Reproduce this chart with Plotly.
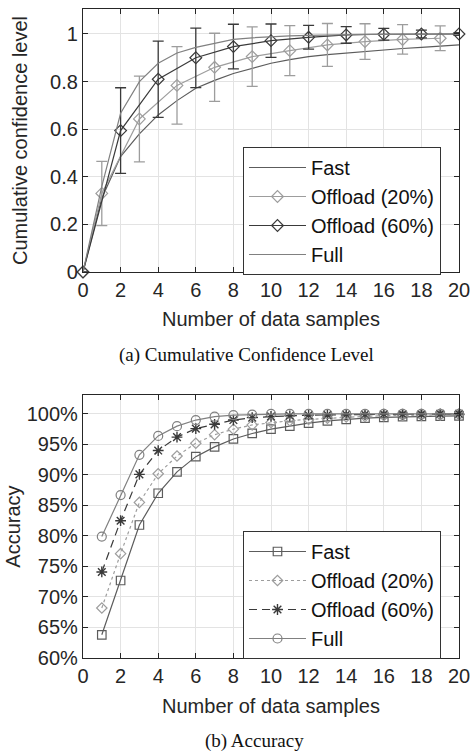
import plotly.graph_objects as go

# ---- (a) Cumulative confidence level ----
conf_x = list(range(0, 21))
conf_fast = [0, 0.31, 0.485, 0.58, 0.66, 0.72, 0.772, 0.805, 0.834, 0.857, 0.877,
             0.892, 0.905, 0.913, 0.92, 0.927, 0.933, 0.939, 0.944, 0.949, 0.954]
conf_full = [0, 0.36, 0.667, 0.80, 0.877, 0.92, 0.944, 0.962, 0.977, 0.984, 0.989,
             0.992, 0.994, 0.996, 0.997, 0.998, 0.998, 0.999, 0.999, 1.0, 1.0]

off20_x = [0, 1, 3, 5, 7, 9, 11, 13, 15, 17, 19]
off20_y = [0, 0.33, 0.643, 0.784, 0.86, 0.905, 0.93, 0.954, 0.968, 0.977, 0.982]
off20_err = [0, 0.135, 0.18, 0.163, 0.143, 0.125, 0.105, 0.09, 0.075, 0.062, 0.052]

off60_x = [0, 2, 4, 6, 8, 10, 12, 14, 16, 18, 20]
off60_y = [0, 0.594, 0.81, 0.90, 0.947, 0.972, 0.986, 0.996, 0.999, 1.0, 1.0]
off60_err = [0, 0.18, 0.16, 0.125, 0.094, 0.07, 0.05, 0.035, 0.025, 0.016, 0.006]

# ---- (b) Accuracy (%) ----
acc_x = list(range(1, 21))
acc_fast = [63.8, 72.7, 81.8, 87.0, 90.5, 93.0, 94.6, 95.9, 96.8, 97.5,
            98.0, 98.5, 98.85, 99.1, 99.3, 99.45, 99.55, 99.6, 99.65, 99.7]
acc_off20 = [68.2, 77.1, 85.5, 90.2, 93.1, 95.2, 96.6, 97.5, 98.2, 98.6,
             98.9, 99.1, 99.3, 99.5, 99.6, 99.7, 99.75, 99.8, 99.85, 99.9]
acc_off60 = [74.1, 82.5, 90.1, 94.0, 96.2, 97.6, 98.3, 99.0, 99.4, 99.6,
             99.7, 99.8, 99.85, 99.9, 99.9, 99.95, 99.95, 99.95, 100.0, 100.0]
acc_full = [79.9, 86.7, 93.3, 96.4, 98.0, 99.0, 99.55, 99.8, 99.9, 100.0,
            100.0, 100.0, 100.0, 100.0, 100.0, 100.0, 100.0, 100.0, 100.0, 100.0]

series_names = ["Fast", "Offload (20%)", "Offload (60%)", "Full"]
x_ticks = list(range(0, 21, 2))
conf_ticks = [0, 0.2, 0.4, 0.6, 0.8, 1]
conf_tick_text = ["0", "0.2", "0.4", "0.6", "0.8", "1"]
acc_ticks = [60, 65, 70, 75, 80, 85, 90, 95, 100]
acc_tick_text = [f"{v}%" for v in acc_ticks]

C_FAST = "#5c5c5c"
C_OFF20 = "#9d9d9d"
C_OFF60 = "#3a3a3a"
C_FULL = "#808080"

FONT = "Liberation Sans, Arial, sans-serif"
SERIF = "Liberation Serif, Times New Roman, serif"
TXT = "#262626"

fig = go.Figure()

# top panel
fig.add_trace(go.Scatter(x=conf_x, y=conf_fast, mode="lines", name=series_names[0],
                         line=dict(color=C_FAST, width=1.2), xaxis="x", yaxis="y",
                         legend="legend"))
fig.add_trace(go.Scatter(x=off20_x, y=off20_y, mode="lines+markers", name=series_names[1],
                         line=dict(color=C_OFF20, width=1.2),
                         marker=dict(symbol="diamond-open", size=9, color=C_OFF20,
                                     line=dict(width=1.2, color=C_OFF20)),
                         error_y=dict(type="data", array=off20_err, color=C_OFF20,
                                      thickness=1.3, width=5.5),
                         cliponaxis=False, xaxis="x", yaxis="y", legend="legend"))
fig.add_trace(go.Scatter(x=off60_x, y=off60_y, mode="lines+markers", name=series_names[2],
                         line=dict(color=C_OFF60, width=1.2),
                         marker=dict(symbol="diamond-open", size=9, color=C_OFF60,
                                     line=dict(width=1.2, color=C_OFF60)),
                         error_y=dict(type="data", array=off60_err, color=C_OFF60,
                                      thickness=1.3, width=5.5),
                         cliponaxis=False, xaxis="x", yaxis="y", legend="legend"))
fig.add_trace(go.Scatter(x=conf_x, y=conf_full, mode="lines", name=series_names[3],
                         line=dict(color=C_FULL, width=1.2), xaxis="x", yaxis="y",
                         legend="legend"))

# bottom panel
fig.add_trace(go.Scatter(x=acc_x, y=acc_fast, mode="lines+markers", name=series_names[0],
                         line=dict(color=C_FAST, width=1.2),
                         marker=dict(symbol="square-open", size=8.5, color=C_FAST,
                                     line=dict(width=1.2, color=C_FAST)),
                         cliponaxis=False, xaxis="x2", yaxis="y2", legend="legend2"))
fig.add_trace(go.Scatter(x=acc_x, y=acc_off20, mode="lines+markers", name=series_names[1],
                         line=dict(color=C_OFF20, width=1.2, dash="dot"),
                         marker=dict(symbol="diamond-open", size=8, color=C_OFF20,
                                     line=dict(width=1.2, color=C_OFF20)),
                         cliponaxis=False, xaxis="x2", yaxis="y2", legend="legend2"))
fig.add_trace(go.Scatter(x=acc_x, y=acc_off60, mode="lines+markers", name=series_names[2],
                         line=dict(color=C_OFF60, width=1.2, dash="8px,5px"),
                         marker=dict(symbol="asterisk-open", size=9, color=C_OFF60,
                                     line=dict(width=1.4, color=C_OFF60)),
                         cliponaxis=False, xaxis="x2", yaxis="y2", legend="legend2"))
fig.add_trace(go.Scatter(x=acc_x, y=acc_full, mode="lines+markers", name=series_names[3],
                         line=dict(color=C_FULL, width=1.2),
                         marker=dict(symbol="circle-open", size=9, color=C_FULL,
                                     line=dict(width=1.2, color=C_FULL)),
                         cliponaxis=False, xaxis="x2", yaxis="y2", legend="legend2"))

axis_common = dict(
    showgrid=True, gridcolor="#e3e3e3", gridwidth=1,
    showline=True, linecolor=TXT, linewidth=1.2, mirror="ticks",
    ticks="inside", ticklen=5, tickcolor=TXT, tickwidth=1,
    tickfont=dict(family=FONT, size=20, color=TXT),
    zeroline=False, automargin=False,
)

legend_common = dict(
    bgcolor="white", bordercolor="#333333", borderwidth=1,
    font=dict(family=FONT, size=20, color="#111111"),
    xanchor="left", yanchor="top", itemwidth=57, tracegroupgap=0,
)

fig.update_layout(
    width=474, height=752,
    margin=dict(l=83, r=15, t=9, b=94),
    plot_bgcolor="white", paper_bgcolor="white",
    font=dict(family=FONT, size=20, color=TXT),
    xaxis=dict(domain=[0, 1], anchor="y", range=[0, 20], tickvals=x_ticks,
               title=dict(text="Number of data samples", font=dict(size=20), standoff=11),
               **axis_common),
    yaxis=dict(domain=[0.5948, 1], anchor="x", range=[0, 1.105], tickvals=conf_ticks,
               ticktext=conf_tick_text,
               title=dict(text="Cumulative confidence level", font=dict(size=20), standoff=17),
               **axis_common),
    xaxis2=dict(domain=[0, 1], anchor="y2", range=[0, 20], tickvals=x_ticks,
                title=dict(text="Number of data samples", font=dict(size=20), standoff=12),
                **axis_common),
    yaxis2=dict(domain=[0, 0.4052], anchor="x2", range=[60, 103.1], tickvals=acc_ticks,
                ticktext=acc_tick_text,
                title=dict(text="Accuracy", font=dict(size=20), standoff=0),
                **axis_common),
    legend=dict(x=0.4255, y=(658 - 147) / 649, **legend_common),
    legend2=dict(x=0.4255, y=(658 - 531) / 649, **legend_common),
    annotations=[
        dict(text="(a) Cumulative Confidence Level", xref="paper", yref="paper",
             x=0.435, y=(658 - 355) / 649, xanchor="center", yanchor="middle",
             showarrow=False, font=dict(family=SERIF, size=19, color="#111111")),
        dict(text="(b) Accuracy", xref="paper", yref="paper",
             x=0.455, y=(658 - 741) / 649, xanchor="center", yanchor="middle",
             showarrow=False, font=dict(family=SERIF, size=19, color="#111111")),
    ],
)

fig.write_html("out.html")
